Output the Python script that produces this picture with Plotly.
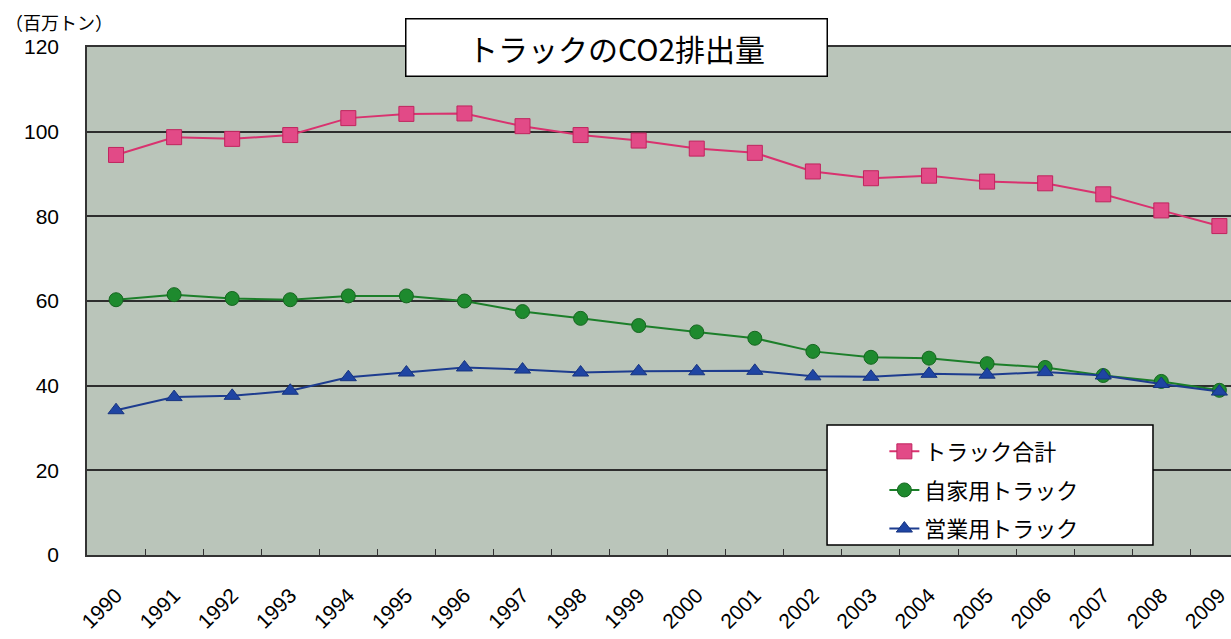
import plotly.graph_objects as go

years = [str(y) for y in range(1990, 2010)]

# CO2 emissions from trucks (million tonnes)
truck_total = [94.5, 98.7, 98.3, 99.2, 103.2, 104.2, 104.3, 101.3, 99.2, 97.9,
               96.0, 95.0, 90.6, 89.0, 89.6, 88.2, 87.8, 85.2, 81.4, 77.7]
private_trucks = [60.3, 61.5, 60.6, 60.3, 61.2, 61.2, 60.0, 57.5, 55.9, 54.2,
                  52.7, 51.2, 48.1, 46.7, 46.5, 45.2, 44.3, 42.4, 41.0, 38.9]
commercial_trucks = [34.2, 37.3, 37.6, 38.8, 42.0, 43.1, 44.3, 43.8, 43.1, 43.4,
                     43.4, 43.5, 42.2, 42.1, 42.8, 42.6, 43.2, 42.4, 40.4, 38.6]

series_names = ["トラック合計", "自家用トラック", "営業用トラック"]
y_ticks = [0, 20, 40, 60, 80, 100, 120]

num_font = "Arial, 'Liberation Sans', 'Noto Sans CJK JP', sans-serif"
jp_font = "'Noto Sans CJK JP', sans-serif"

fig = go.Figure()

fig.add_trace(go.Scatter(
    x=years, y=truck_total, name=series_names[0], mode="lines+markers",
    line=dict(color="#d9326f", width=2),
    marker=dict(symbol="square", size=15, color="#e24a87",
                line=dict(color="#c0245e", width=1)),
    legendgroup="a",
))
fig.add_trace(go.Scatter(
    x=years, y=private_trucks, name=series_names[1], mode="lines+markers",
    line=dict(color="#1c7f2a", width=2),
    marker=dict(symbol="circle", size=14, color="#1e8a2e",
                line=dict(color="#15661f", width=1)),
    legendgroup="b",
))
fig.add_trace(go.Scatter(
    x=years, y=commercial_trucks, name=series_names[2], mode="lines+markers",
    line=dict(color="#1d3c8f", width=2),
    marker=dict(symbol="triangle-up", size=14, color="#1f45a3",
                line=dict(color="#173480", width=1)),
    legendgroup="c",
))

fig.update_layout(
    width=1231, height=639,
    margin=dict(l=87, r=0, t=47, b=84),
    paper_bgcolor="white",
    plot_bgcolor="#bac5ba",
    showlegend=True,
    legend=dict(
        x=0.697, y=0.245, xanchor="left", yanchor="top",
        bgcolor="rgba(0,0,0,0)", borderwidth=0,
        font=dict(family=jp_font, size=22, color="black"),
        traceorder="grouped", tracegroupgap=7,
    ),
    # white framed panel behind the legend entries
    shapes=[
        dict(type="rect", xref="paper", yref="paper",
             x0=0.6469, x1=0.9318, y0=0.0197, y1=0.256,
             fillcolor="white", line=dict(color="black", width=1.5),
             layer="above"),
    ],
    annotations=[
        dict(
            text="トラックのCO2排出量", xref="paper", yref="paper",
            x=0.463, y=1.0, xanchor="center", yanchor="middle",
            showarrow=False, bgcolor="white", bordercolor="black", borderwidth=1.5,
            width=418, height=54,
            font=dict(family=jp_font, size=30, color="black"),
        ),
        dict(
            text="（百万トン）", xref="paper", yref="paper",
            x=-0.073, y=1.049, xanchor="left", yanchor="middle",
            showarrow=False,
            font=dict(family=jp_font, size=18, color="black"),
        ),
    ],
)

fig.update_xaxes(
    type="category", range=[-0.5, 19.2],
    tickangle=-45, tickfont=dict(family=num_font, size=21, color="black"),
    ticks="inside", ticklen=6, tickcolor="#333", tickson="boundaries",
    showline=True, linecolor="#333", linewidth=1.5, mirror=True,
    showgrid=False, ticklabelstandoff=18,
)
fig.update_yaxes(
    range=[0, 120], tickvals=y_ticks,
    tickfont=dict(family=num_font, size=21, color="black"),
    showline=True, linecolor="#333", linewidth=1.5,
    showgrid=True, gridcolor="#2e2e2e", gridwidth=1.5,
    zeroline=False, ticks="", ticklabelstandoff=22,
)

fig.write_html("out.html")
